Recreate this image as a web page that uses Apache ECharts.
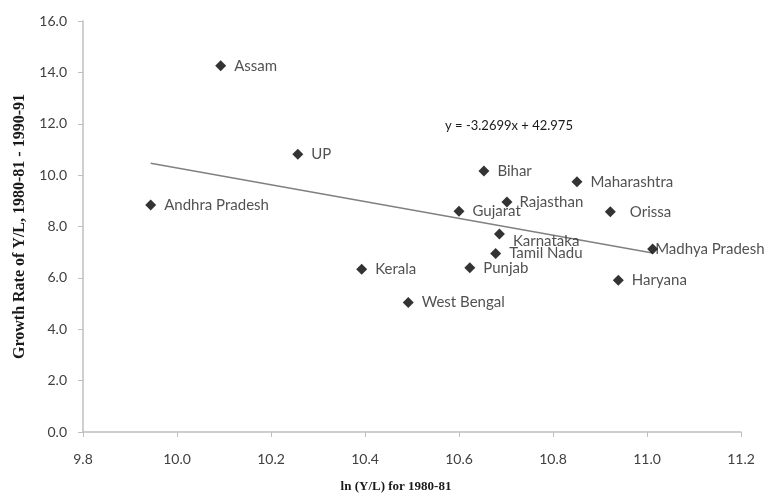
<!DOCTYPE html>
<html>
<head>
<meta charset="utf-8">
<script src="https://cdn.jsdelivr.net/npm/echarts@6/dist/echarts.min.js"></script>
<style>
  html, body { margin: 0; padding: 0; background: #fff; }
  #main { width: 769px; height: 497px; }
</style>
</head>
<body>
<div id="main"></div>
<script>
// states, ln(Y/L) 1980-81 and growth rate 1980-81 to 1990-91
var states = ['Assam', 'UP', 'Andhra Pradesh', 'Bihar', 'Maharashtra', 'Rajasthan', 'Gujarat',
              'Orissa', 'Karnataka', 'Tamil Nadu', 'Madhya Pradesh', 'Punjab', 'Haryana',
              'West Bengal', 'Kerala'];
var lnYL   = [10.093, 10.257, 9.944, 10.653, 10.851, 10.702, 10.600,
              10.922, 10.686, 10.678, 11.012, 10.623, 10.939, 10.492, 10.393];
var growth = [14.26, 10.81, 8.84, 10.16, 9.74, 8.95, 8.59,
              8.57, 7.71, 6.95, 7.12, 6.39, 5.91, 5.04, 6.34];

// trend line from the fitted equation
var slope = -3.2699;
var intercept = 42.975;
var eqText = 'y = -3.2699x + 42.975';

// a few labels sit off the usual place
var labelOffsets = {
  'Orissa': [6, 0],
  'Madhya Pradesh': [-11, 0],
  'Karnataka': [0, 7],
  'Rajasthan': [-1, 0]
};

var pts = [];
for (var i = 0; i < states.length; i++) {
  var p = { name: states[i], value: [lnYL[i], growth[i]] };
  if (labelOffsets[states[i]]) {
    p.label = { offset: labelOffsets[states[i]] };
  }
  pts.push(p);
}

var xMin = Math.min.apply(null, lnYL);
var xMax = Math.max.apply(null, lnYL);
var trend = [[xMin, slope * xMin + intercept], [xMax, slope * xMax + intercept]];

var labelFont = 'Lato, "Open Sans", sans-serif';
var titleFont = '"Liberation Serif", serif';

var option = {
  animation: false,
  backgroundColor: '#ffffff',
  grid: { left: 83, right: 28, top: 21, bottom: 65, outerBoundsMode: 'none' },
  xAxis: {
    type: 'value',
    min: 9.8, max: 11.2, interval: 0.2,
    name: 'ln (Y/L) for 1980-81',
    nameLocation: 'middle',
    nameGap: 48,
    nameTextStyle: { fontFamily: titleFont, fontWeight: 'bold', fontSize: 13, color: '#1a1a1a', padding: [0, 32, 0, 0] },
    axisLine: { show: true, lineStyle: { color: '#bfbfbf', width: 1.5 } },
    axisTick: { show: true, length: 5, lineStyle: { color: '#bfbfbf' } },
    axisLabel: {
      margin: 20, fontSize: 14, color: '#404040', fontFamily: labelFont,
      formatter: function (v) { return v.toFixed(1); }
    },
    splitLine: { show: false }
  },
  yAxis: {
    type: 'value',
    min: 0, max: 16, interval: 2,
    name: 'Growth Rate of Y/L, 1980-81 - 1990-91',
    nameLocation: 'middle',
    nameGap: 55,
    nameTextStyle: { fontFamily: titleFont, fontWeight: 'bold', fontSize: 16, color: '#1a1a1a' },
    axisLine: { show: true, lineStyle: { color: '#bfbfbf', width: 1.5 } },
    axisTick: { show: true, length: 5, lineStyle: { color: '#bfbfbf' } },
    axisLabel: {
      margin: 16, fontSize: 14, color: '#404040', fontFamily: labelFont,
      formatter: function (v) { return v.toFixed(1); }
    },
    splitLine: { show: false }
  },
  series: [
    {
      name: 'trend',
      type: 'line',
      data: trend,
      symbol: 'none',
      lineStyle: { color: '#808080', width: 1.5 },
      z: 1
    },
    {
      name: 'states',
      type: 'scatter',
      data: pts,
      symbol: 'diamond',
      symbolSize: 11,
      itemStyle: { color: '#000' },
      label: {
        show: true,
        position: 'right',
        distance: 8,
        formatter: '{b}',
        fontSize: 15,
        color: '#262626',
        fontFamily: labelFont
      },
      z: 3
    }
  ],
  graphic: [
    {
      type: 'text',
      left: 445, top: 119,
      style: { text: eqText, fontSize: 13, fill: '#1a1a1a', fontFamily: labelFont }
    }
  ]
};

var chart = echarts.init(document.getElementById('main'));
chart.setOption(option);
</script>
</body>
</html>
